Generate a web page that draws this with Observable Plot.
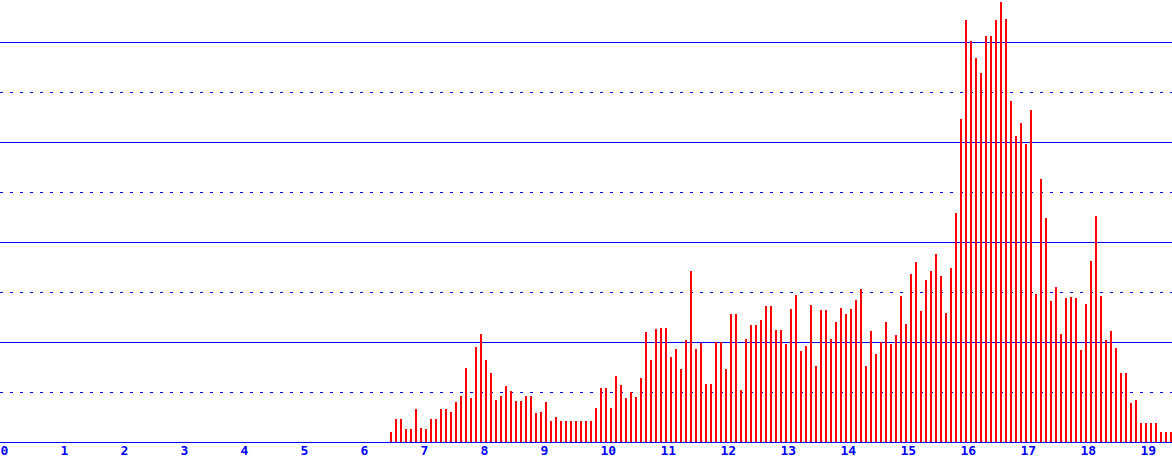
<!DOCTYPE html>
<html>
<head>
<meta charset="utf-8">
<script src="https://cdn.jsdelivr.net/npm/d3@7"></script>
<script src="https://cdn.jsdelivr.net/npm/@observablehq/plot@0.6"></script>
<style>
  html, body { margin: 0; padding: 0; background: #fff; }
  #chart svg { display: block; }
</style>
</head>
<body>
<div id="chart"></div>
<script>
// first bar time (hours) and interval between bars (hours)
const startHour = 6 + 28 / 60;
const stepHours = 5 / 60;

// bar heights (gridlines at every 50 units)
const values = [
  10, 23, 23, 13, 13, 33, 14, 13, 23, 23, 33, 33, 30, 40, 46, 74, 44, 95, 108, 82, 69, 42, 46, 56, 51, 41,
  41, 46, 46, 29, 30, 40, 21, 25, 21, 21, 21, 21, 21, 21, 21, 34, 54, 54, 34, 66, 57, 44, 50, 45, 64, 110, 82,
  113, 114, 114, 85, 93, 73, 102, 171, 93, 99, 58, 58, 100, 100, 73, 128, 128, 52, 103, 117, 117, 122, 136, 136, 112, 112, 98,
  133, 147, 91, 96, 137, 76, 132, 132, 103, 120, 134, 128, 133, 142, 153, 76, 111, 88, 100, 120, 98, 107, 146, 118, 168, 180, 131,
  162, 171, 188, 166, 129, 174, 229, 323, 422, 401, 384, 369, 406, 406, 422, 440, 423, 341, 306, 319, 298, 332, 148, 263, 224,
  141, 155, 108, 144, 145, 144, 92, 138, 181, 226, 146, 102, 111, 94, 69, 69, 39, 42, 19, 19, 19, 19, 10, 10, 10
];

const xTicks = [0, 1, 2, 3, 4, 5, 6, 7, 8, 9, 10, 11, 12, 13, 14, 15, 16, 17, 18, 19];
const solidLines = [0, 100, 200, 300, 400];
const dottedLines = [50, 150, 250, 350];

const data = values.map((v, i) => ({ t: startHour + i * stepHours, v }));

const BLUE = "#0000ff";
const RED = "#ff0000";

const chart = Plot.plot({
  width: 1172,
  height: 462,
  marginLeft: 0,
  marginRight: 0,
  marginTop: 0,
  marginBottom: 20,
  style: { background: "#ffffff", fontFamily: "DejaVu Sans Mono" },
  x: { domain: [-3 / 60, 1169 / 60], label: null },
  y: { domain: [0, 442], axis: null },
  marks: [
    Plot.ruleY(dottedLines, { stroke: BLUE, strokeWidth: 1, strokeDasharray: "3,7" }),
    Plot.ruleY(solidLines, { stroke: BLUE, strokeWidth: 1 }),
    Plot.ruleX(data, { x: "t", y1: 0, y2: "v", stroke: RED, strokeWidth: 2, dx: -0.5 }),
    Plot.axisX(xTicks, {
      tickSize: 0,
      tickPadding: 3,
      textAnchor: "start",
      dx: -3,
      fill: BLUE,
      fontSize: 13,
      fontWeight: "bold",
      tickFormat: d => String(d)
    })
  ]
});

document.getElementById("chart").appendChild(chart);
</script>
</body>
</html>
